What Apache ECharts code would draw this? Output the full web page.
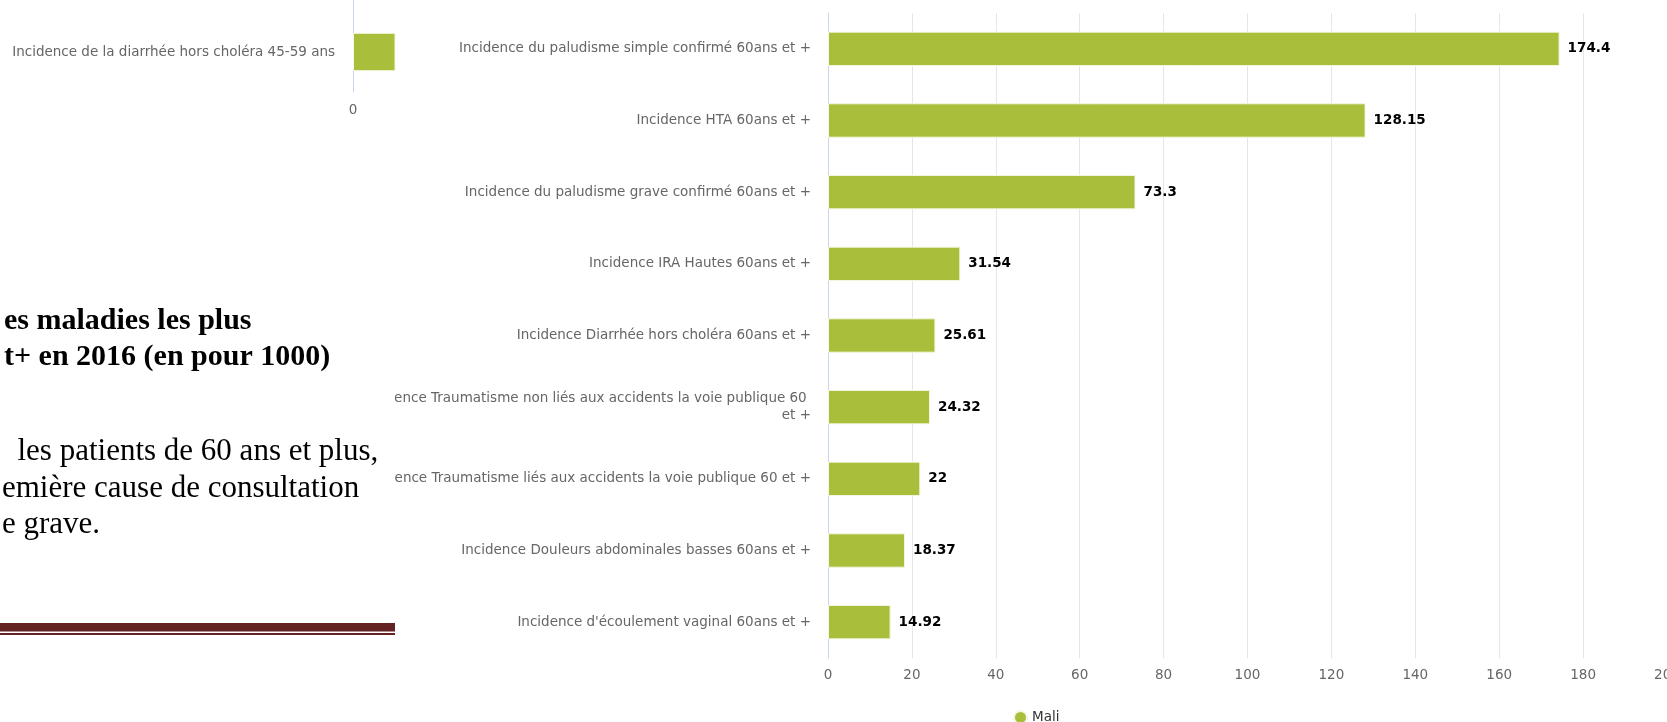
<!DOCTYPE html>
<html>
<head>
<meta charset="utf-8">
<script src="https://cdn.jsdelivr.net/npm/echarts@6/dist/echarts.min.js"></script>
<style>
  html, body { margin: 0; padding: 0; background: #fff; }
  #chart { width: 1667px; height: 722px; }
</style>
</head>
<body>
<div id="chart"></div>
<script>
// main chart
const categories = [
  'Incidence du paludisme simple confirmé 60ans et +',
  'Incidence HTA 60ans et +',
  'Incidence du paludisme grave confirmé 60ans et +',
  'Incidence IRA Hautes 60ans et +',
  'Incidence Diarrhée hors choléra 60ans et +',
  'Incidence Traumatisme non liés aux accidents la voie publique 60 et +',
  'Incidence Traumatisme liés aux accidents la voie publique 60 et +',
  'Incidence Douleurs abdominales basses 60ans et +',
  "Incidence d'écoulement vaginal 60ans et +"
];
const values = [174.4, 128.15, 73.3, 31.54, 25.61, 24.32, 22, 18.37, 14.92];
const xTicks = [0, 20, 40, 60, 80, 100, 120, 140, 160, 180, 200];

// cropped piece of the previous chart (left side, bar runs off the crop)
const leftCategories = ['', 'Incidence de la diarrhée hors choléra 45-59 ans'];
const leftValues = [null, 5];
const leftTicks = [0, 1];

// cropped document text
const titleLines = ['es maladies les plus', 't+ en 2016 (en pour 1000)'];
const bodyLines = ['  les patients de 60 ans et plus,', 'emière cause de consultation', 'e grave.'];

const GREEN = '#a9bf3b';
const chart = echarts.init(document.getElementById('chart'));

const graphics = [
  { type: 'rect', z: 50, shape: { x: 0, y: 0, width: 395, height: 722 }, style: { fill: '#fff' } },
  { type: 'rect', z: 60, shape: { x: 0, y: 623, width: 395, height: 8.5 }, style: { fill: '#652222' } },
  { type: 'rect', z: 60, shape: { x: 0, y: 633, width: 395, height: 2 }, style: { fill: '#652222' } }
];
titleLines.forEach((t, i) => {
  graphics.push({
    type: 'text', z: 60, x: 4, y: 321 + i * 36,
    style: { text: t, font: 'bold 30px "Liberation Serif"', fill: '#000', verticalAlign: 'middle' }
  });
});
bodyLines.forEach((t, i) => {
  graphics.push({
    type: 'text', z: 60, x: 2, y: 452 + i * 36.5,
    style: { text: t, font: '31px "Liberation Serif"', fill: '#000', verticalAlign: 'middle' }
  });
});

const option = {
  animation: false,
  textStyle: { fontFamily: 'DejaVu Sans' },
  legend: {
    data: ['Mali'],
    icon: 'circle',
    itemWidth: 13,
    itemHeight: 13,
    itemGap: 6,
    left: 1008,
    top: 705,
    textStyle: { color: '#333', fontSize: 13.5, fontFamily: 'DejaVu Sans' }
  },
  grid: [
    { left: 828, right: 0, top: 13, bottom: 64, outerBoundsMode: 'none' },
    { left: 353, width: 42, top: -68, height: 160, outerBoundsMode: 'none' }
  ],
  xAxis: [
    {
      gridIndex: 0,
      type: 'value',
      min: xTicks[0],
      max: xTicks[xTicks.length - 1],
      interval: xTicks[1] - xTicks[0],
      axisLine: { show: false },
      axisTick: { show: false },
      axisLabel: { color: '#666', fontSize: 13.5, margin: 10 },
      splitLine: { lineStyle: { color: '#e6e6e6' } }
    },
    {
      gridIndex: 1,
      type: 'value',
      z: 60,
      min: leftTicks[0],
      max: leftTicks[leftTicks.length - 1],
      interval: leftTicks[1] - leftTicks[0],
      axisLine: { show: false },
      axisTick: { show: false },
      axisLabel: { color: '#666', fontSize: 13.5, margin: 11, showMaxLabel: false },
      splitLine: { show: false }
    }
  ],
  yAxis: [
    {
      gridIndex: 0,
      type: 'category',
      inverse: true,
      data: categories,
      axisLine: { lineStyle: { color: '#ccd6eb' } },
      axisTick: { length: 11, lineStyle: { color: '#ccd6eb' } },
      axisLabel: {
        color: '#666',
        fontSize: 13.5,
        margin: 17,
        width: 465,
        overflow: 'break',
        lineHeight: 17
      }
    },
    {
      gridIndex: 1,
      type: 'category',
      inverse: true,
      z: 60,
      data: leftCategories,
      axisLine: { lineStyle: { color: '#ccd6eb' } },
      axisTick: { length: 11, lineStyle: { color: '#ccd6eb' } },
      axisLabel: { color: '#666', fontSize: 13.5, margin: 18 }
    }
  ],
  series: [
    {
      name: 'Mali',
      type: 'bar',
      xAxisIndex: 0,
      yAxisIndex: 0,
      data: values,
      barWidth: '48%',
      itemStyle: { color: GREEN, borderColor: '#f4f7e4', borderWidth: 1 },
      label: {
        show: true,
        position: 'right',
        distance: 8,
        color: '#000',
        fontWeight: 'bold',
        fontSize: 13.5,
        fontFamily: 'DejaVu Sans'
      }
    },
    {
      name: 'Mali',
      type: 'bar',
      xAxisIndex: 1,
      yAxisIndex: 1,
      z: 60,
      clip: true,
      data: leftValues,
      barWidth: '48%',
      itemStyle: { color: GREEN, borderColor: '#f4f7e4', borderWidth: 1 }
    }
  ],
  graphic: graphics
};

chart.setOption(option);
</script>
</body>
</html>
